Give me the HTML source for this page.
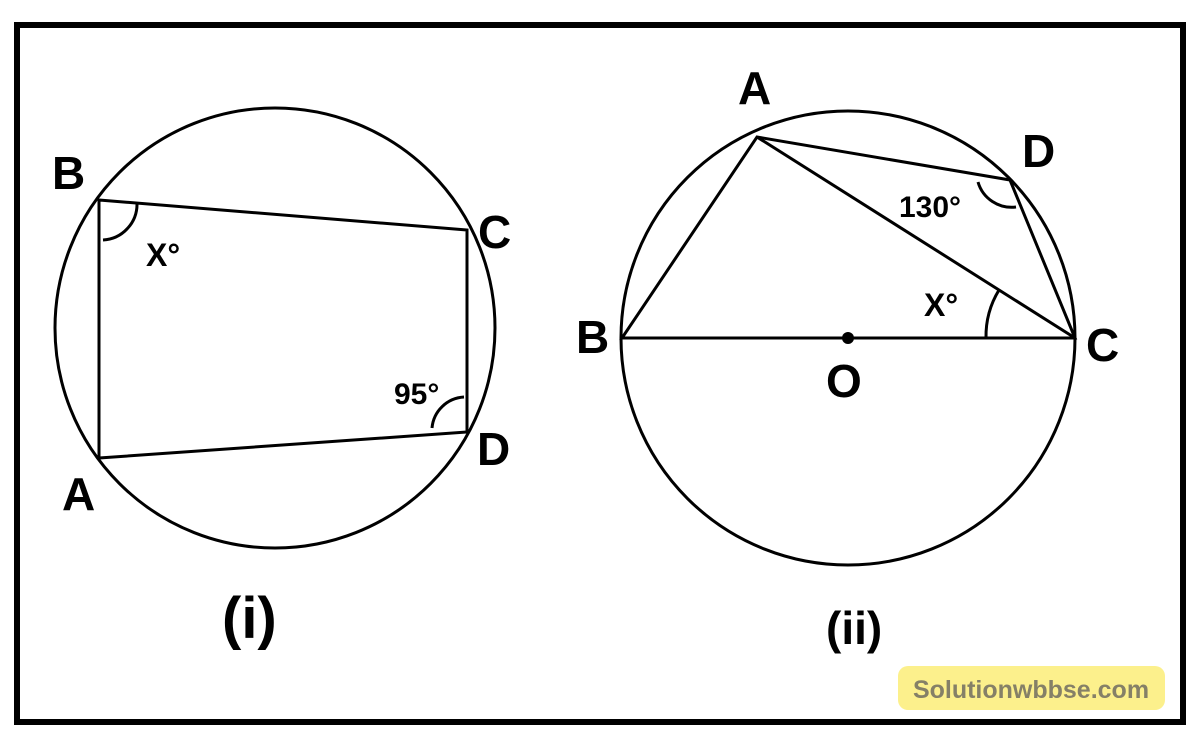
<!DOCTYPE html>
<html><head><meta charset="utf-8"><style>
html,body{margin:0;padding:0;background:#fff;width:1200px;height:737px;overflow:hidden}
text{font-family:"Liberation Sans",sans-serif;font-weight:bold;fill:#000}
</style></head><body>
<svg width="1200" height="737" viewBox="0 0 1200 737" xmlns="http://www.w3.org/2000/svg">
<rect x="17" y="25" width="1166" height="697" fill="none" stroke="#000" stroke-width="6"/>
<g fill="none" stroke="#000" stroke-width="3">
<circle cx="275" cy="328" r="220"/>
<polygon points="99,200 467,230 467,432 99,458"/>
<path d="M 103 240 A 36 36 0 0 0 137 203"/>
<path d="M 432 428 A 34 34 0 0 1 464 397"/>
<circle cx="848" cy="338" r="227"/>
<polygon points="622,338 757,137 1010,180 1075,338"/>
<line x1="757" y1="137" x2="1075" y2="338"/>
<path d="M 986 338 A 89 89 0 0 1 999 290"/>
<path d="M 978 182 A 35 35 0 0 0 1016 207"/>
</g>
<circle cx="848" cy="338" r="6" fill="#000"/>
<text x="52" y="189" font-size="46">B</text>
<text x="478" y="248" font-size="46">C</text>
<text x="477" y="465" font-size="46">D</text>
<text x="62" y="510" font-size="46">A</text>
<text x="146" y="266" font-size="32">X°</text>
<text x="394" y="404" font-size="30">95°</text>
<text x="222" y="638" font-size="58">(i)</text>
<text x="738" y="104" font-size="46">A</text>
<text x="1022" y="167" font-size="46">D</text>
<text x="576" y="353" font-size="46">B</text>
<text x="1086" y="361" font-size="46">C</text>
<text x="826" y="397" font-size="46">O</text>
<text x="899" y="217" font-size="30">130°</text>
<text x="924" y="316" font-size="32">X°</text>
<text x="826" y="644" font-size="46">(ii)</text>
<rect x="898" y="666" width="267" height="44" rx="10" fill="#fcf08c"/>
<text x="1031" y="698" font-size="25" text-anchor="middle" style="fill:#858067">Solutionwbbse.com</text>
</svg>
</body></html>
